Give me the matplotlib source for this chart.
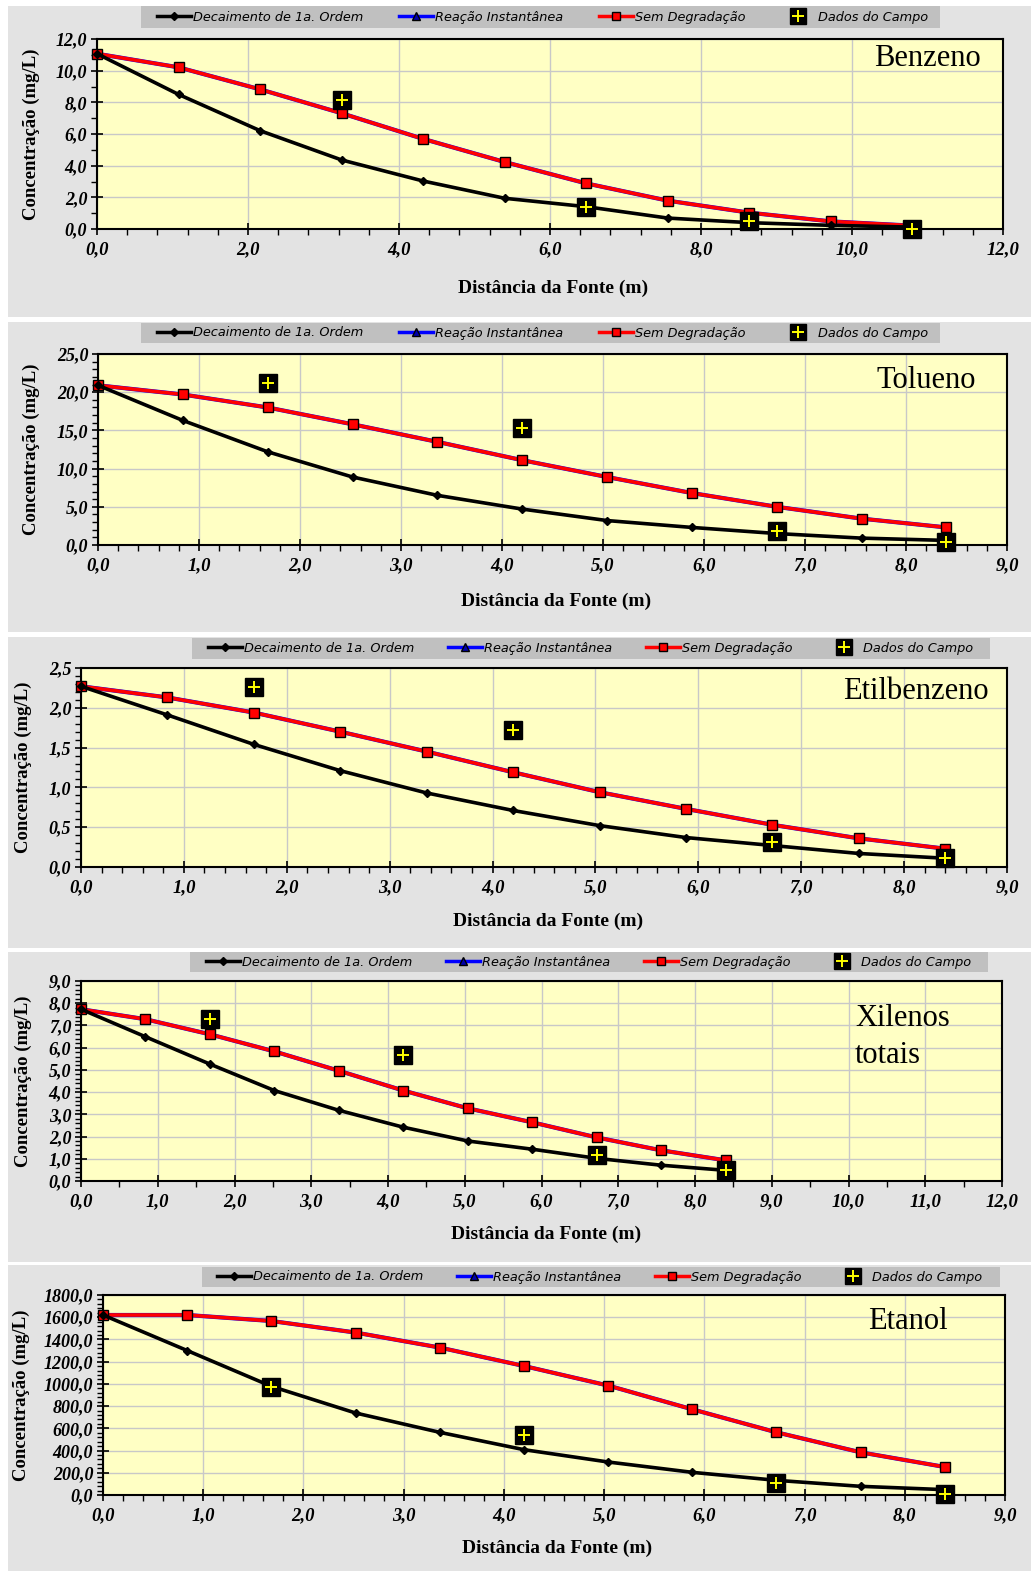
import matplotlib
matplotlib.use("Agg")
import matplotlib.pyplot as plt
from matplotlib.patches import Rectangle
from matplotlib.lines import Line2D
from matplotlib.legend_handler import HandlerTuple
from matplotlib.ticker import MultipleLocator, FuncFormatter

W, H = 1031, 1571

# --- dados ---
dist_benzeno = [0.0, 1.08, 2.16, 3.24, 4.32, 5.40, 6.48, 7.56, 8.64, 9.72, 10.80]
dist_outros = [0.0, 0.84, 1.68, 2.52, 3.36, 4.20, 5.04, 5.88, 6.72, 7.56, 8.40]
campo_x_benzeno = [3.24, 6.48, 8.64, 10.80]
campo_x_outros = [1.68, 4.20, 6.72, 8.40]

benzeno_decaimento = [11.07, 8.50, 6.21, 4.36, 3.03, 1.94, 1.41, 0.69, 0.40, 0.23, 0.12]
benzeno_sem_degr = [11.07, 10.21, 8.82, 7.31, 5.69, 4.23, 2.88, 1.79, 1.03, 0.48, 0.21]
benzeno_campo = [8.15, 1.41, 0.50, 0.0]

tolueno_decaimento = [20.9, 16.3, 12.2, 8.9, 6.5, 4.7, 3.2, 2.3, 1.5, 0.9, 0.6]
tolueno_sem_degr = [20.9, 19.7, 18.0, 15.8, 13.5, 11.1, 8.9, 6.8, 5.0, 3.45, 2.3]
tolueno_campo = [21.2, 15.3, 1.8, 0.35]

etilbenzeno_decaimento = [2.27, 1.91, 1.54, 1.21, 0.93, 0.71, 0.52, 0.37, 0.27, 0.17, 0.11]
etilbenzeno_sem_degr = [2.27, 2.13, 1.94, 1.70, 1.45, 1.19, 0.94, 0.73, 0.53, 0.36, 0.23]
etilbenzeno_campo = [2.26, 1.72, 0.31, 0.11]

xilenos_decaimento = [7.73, 6.49, 5.26, 4.07, 3.18, 2.42, 1.80, 1.43, 1.02, 0.71, 0.48]
xilenos_sem_degr = [7.73, 7.28, 6.60, 5.83, 4.96, 4.07, 3.27, 2.64, 1.96, 1.38, 0.93]
xilenos_campo = [7.31, 5.66, 1.15, 0.48]

etanol_decaimento = [1620, 1300, 978, 738, 564, 408, 297, 204, 132, 78, 48]
etanol_sem_degr = [1620, 1620, 1566, 1462, 1327, 1161, 985, 771, 564, 384, 252]
etanol_campo = [972, 540, 108, 12]

legend_labels = ["Decaimento de 1a. Ordem", "Reação Instantânea",
                 "Sem Degradação", "Dados do Campo"]

# (titulo, x, decaimento, sem degradacao, campo_x, campo, xmax, xmaj, xmin, ymax, ymaj, ymin)
panels = [
    ("Benzeno", dist_benzeno, benzeno_decaimento, benzeno_sem_degr, campo_x_benzeno, benzeno_campo,
     12, 2, 0.4, 12, 2, 1),
    ("Tolueno", dist_outros, tolueno_decaimento, tolueno_sem_degr, campo_x_outros, tolueno_campo,
     9, 1, 0.2, 25, 5, 1),
    ("Etilbenzeno", dist_outros, etilbenzeno_decaimento, etilbenzeno_sem_degr, campo_x_outros, etilbenzeno_campo,
     9, 1, 0.2, 2.5, 0.5, 0.1),
    ("Xilenos\ntotais", dist_outros, xilenos_decaimento, xilenos_sem_degr, campo_x_outros, xilenos_campo,
     12, 1, 0.5, 9, 1, 0.2),
    ("Etanol", dist_outros, etanol_decaimento, etanol_sem_degr, campo_x_outros, etanol_campo,
     9, 1, 0.2, 1800, 200, 40),
]

# layout em pixels: fundo, barra da legenda, conteudo da legenda, area do grafico,
# titulo (x, baseline da ultima linha, alinhamento), centro do rotulo x, centro x do rotulo y
layout = [
    dict(bg=(8, 6, 1031, 317), bar=(141, 6, 940, 28), leg=(157, 928), plot=(97, 39, 1003, 229),
         title=(981, 66, "right"), xlab=(553, 288), ylab=31),
    dict(bg=(8, 322, 1031, 632), bar=(141, 323, 940, 343), leg=(157, 928), plot=(98, 354, 1007, 545),
         title=(976, 388, "right"), xlab=(556, 601), ylab=31),
    dict(bg=(8, 637, 1031, 948), bar=(192, 638, 990, 659), leg=(208, 973), plot=(81, 668, 1007, 867),
         title=(989, 699, "right"), xlab=(548, 921), ylab=23),
    dict(bg=(8, 952, 1031, 1262), bar=(190, 952, 988, 972), leg=(206, 971), plot=(81, 981, 1002, 1181),
         title=(855, 1063, "left"), xlab=(546, 1234), ylab=23),
    dict(bg=(8, 1265, 1031, 1571), bar=(202, 1267, 1000, 1287), leg=(217, 982), plot=(103, 1295, 1005, 1495),
         title=(948, 1329, "right"), xlab=(557, 1548), ylab=21),
]

SERIF = ["Liberation Serif", "DejaVu Serif"]
plt.rcParams["font.family"] = SERIF
plt.rcParams["font.weight"] = "bold"
plt.rcParams["font.style"] = "italic"
fmt = FuncFormatter(lambda v, p: f"{v:.1f}".replace(".", ","))


def fx(x):
    return x / W


def fy(y):
    return 1 - y / H


fig = plt.figure(figsize=(W / 100, H / 100), dpi=100)
fig.patch.set_facecolor("white")

for (title, x, dec, sem, cx, campo, xmax, xmaj, xmin, ymax, ymaj, ymin), lay in zip(panels, layout):
    l, t, r, b = lay["bg"]
    fig.patches.append(Rectangle((fx(l), fy(b)), (r - l) / W, (b - t) / H, transform=fig.transFigure,
                                 facecolor="#e3e3e3", edgecolor="none", zorder=-2))
    l, t, r, b = lay["bar"]
    fig.patches.append(Rectangle((fx(l), fy(b)), (r - l) / W, (b - t) / H, transform=fig.transFigure,
                                 facecolor="#c0c0c0", edgecolor="none", zorder=-1))

    l, t, r, b = lay["plot"]
    ax = fig.add_axes([fx(l), fy(b), (r - l) / W, (b - t) / H])
    ax.set_facecolor("#ffffc4")
    ax.set_xlim(0, xmax)
    ax.set_ylim(0, ymax)
    ax.xaxis.set_major_locator(MultipleLocator(xmaj))
    ax.xaxis.set_minor_locator(MultipleLocator(xmin))
    ax.yaxis.set_major_locator(MultipleLocator(ymaj))
    ax.yaxis.set_minor_locator(MultipleLocator(ymin))
    ax.xaxis.set_major_formatter(fmt)
    ax.yaxis.set_major_formatter(fmt)
    ax.grid(True, which="major", color="#c8c8c8", lw=1)
    ax.set_axisbelow(True)
    for sp in ax.spines.values():
        sp.set_linewidth(1.5)
    ax.tick_params(which="major", direction="inout", length=8, width=1.2)
    ax.tick_params(which="minor", direction="out", length=4, width=1)
    ax.tick_params(axis="x", which="major", pad=5, labelsize=13.5)
    ax.tick_params(axis="y", which="major", pad=3, labelsize=13)

    # reacao instantanea fica escondida sob a curva sem degradacao
    ax.plot(x, sem, color="#0000ff", lw=3.0, zorder=2)
    ax.plot(x, sem, color="red", lw=2.6, marker="s", ms=7, mfc="red", mec="black", mew=1, zorder=3,
            clip_on=False)
    ax.plot(x, dec, color="black", lw=2.6, marker="D", ms=4, zorder=4, clip_on=False)
    ax.plot(cx, campo, ls="none", marker="s", ms=13, color="black", zorder=5, clip_on=False)
    ax.plot(cx, campo, ls="none", marker="+", ms=9, mew=1.4, color="yellow", zorder=6, clip_on=False)

    ax.set_xlabel("Distância da Fonte (m)", fontsize=14, fontweight="bold", fontstyle="normal", va="center")
    ax.xaxis.set_label_coords(fx(lay["xlab"][0]), fy(lay["xlab"][1]), transform=fig.transFigure)
    ax.set_ylabel("Concentração (mg/L)", fontsize=13.5, fontweight="bold", fontstyle="normal", va="center")
    ax.yaxis.set_label_coords(fx(lay["ylab"]), fy((t + b) / 2), transform=fig.transFigure)

    tx, tb, ha = lay["title"]
    ax.text(fx(tx), fy(tb), title, transform=fig.transFigure, ha=ha, va="baseline",
            fontsize=22, fontweight="normal", fontstyle="normal", linespacing=1.38, zorder=7)

    handles = [
        Line2D([], [], color="black", lw=2.5, marker="D", ms=4),
        Line2D([], [], color="#0000ff", lw=2.5, marker="^", ms=6, mfc="#0000aa", mec="black"),
        Line2D([], [], color="red", lw=2.5, marker="s", ms=6, mfc="red", mec="black"),
        (Line2D([], [], ls="none", marker="s", ms=11, color="black"),
         Line2D([], [], ls="none", marker="+", ms=8, mew=1.4, color="yellow")),
    ]
    l0, l1 = lay["leg"]
    bl, bt, br, bb = lay["bar"]
    ax.legend(handles, legend_labels, ncol=4, mode="expand", loc="center",
              bbox_to_anchor=(fx(l0), fy(bb), (l1 - l0) / W, (bb - bt) / H),
              bbox_transform=fig.transFigure, frameon=False, borderpad=0, borderaxespad=0,
              handlelength=2.6, handletextpad=0.2, numpoints=1,
              handler_map={tuple: HandlerTuple(ndivide=1)},
              prop={"family": "DejaVu Sans", "style": "italic", "weight": "normal", "size": 9.3})

fig.savefig("out.png", dpi=100)
